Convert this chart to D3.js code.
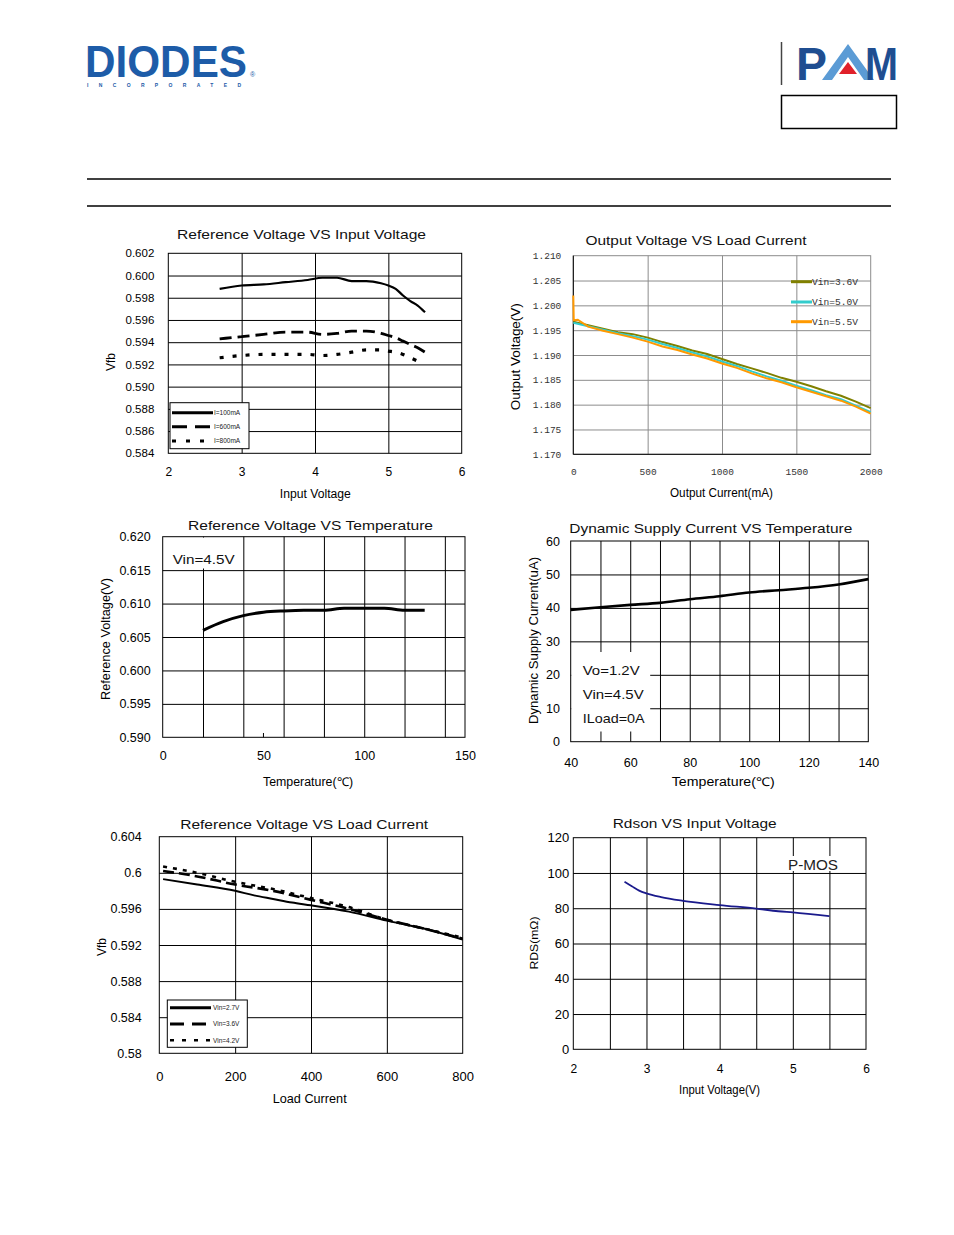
<!DOCTYPE html>
<html>
<head>
<meta charset="utf-8">
<script src="https://cdn.jsdelivr.net/npm/d3@7"></script>
<style>
  body { margin: 0; background: #fff; }
  svg { display: block; }
</style>
</head>
<body>
<svg id="page" width="954" height="1235"></svg>
<script>
// ---- data: Reference Voltage VS Input Voltage
const refVin = [2.7, 3.0, 3.3, 3.6, 3.9, 4.1, 4.3, 4.5, 4.7, 4.9, 5.0, 5.1, 5.2, 5.3, 5.4, 5.5];
const vfb100mA = [0.5988, 0.5991, 0.5992, 0.5994, 0.5996, 0.5998, 0.5998, 0.5995, 0.5995, 0.5993, 0.5991, 0.5988, 0.5982, 0.5977, 0.5973, 0.5967];
const vfb600mA = [0.5943, 0.5945, 0.5947, 0.5949, 0.5949, 0.5947, 0.5948, 0.5950, 0.5950, 0.5948, 0.5946, 0.5944, 0.5941, 0.5938, 0.5935, 0.5931];
const vfb800mA = [0.5926, 0.5928, 0.5929, 0.5929, 0.5929, 0.5928, 0.5929, 0.5931, 0.5933, 0.5933, 0.5932, 0.5931, 0.5929, 0.5926, 0.5923];
const refVinTicks = [2, 3, 4, 5, 6];
const refVfbTicks = [0.584, 0.586, 0.588, 0.590, 0.592, 0.594, 0.596, 0.598, 0.600, 0.602];

// ---- data: Output Voltage VS Load Current
const loadMA = [0, 100, 200, 300, 400, 500, 600, 700, 800, 900, 1000, 1100, 1200, 1300, 1400, 1500, 1600, 1700, 1800, 1900, 2000];
const vout36 = [1.1967, 1.1960, 1.1953, 1.1946, 1.1942, 1.1935, 1.1926, 1.1918, 1.1909, 1.1902, 1.1892, 1.1882, 1.1873, 1.1864, 1.1854, 1.1846, 1.1837, 1.1827, 1.1818, 1.1806, 1.1793];
const vout50 = [1.1965, 1.1958, 1.1951, 1.1944, 1.1938, 1.1931, 1.1922, 1.1914, 1.1905, 1.1897, 1.1887, 1.1878, 1.1867, 1.1857, 1.1848, 1.1838, 1.1829, 1.1819, 1.1811, 1.1798, 1.1785];
const loadMA55 = [0, 3, 30, 100, 200, 300, 400, 500, 600, 700, 800, 900, 1000, 1100, 1200, 1300, 1400, 1500, 1600, 1700, 1800, 1900, 2000];
const vout55 = [1.2020, 1.1970, 1.1971, 1.1957, 1.1949, 1.1942, 1.1935, 1.1927, 1.1917, 1.1910, 1.1901, 1.1893, 1.1883, 1.1874, 1.1863, 1.1853, 1.1845, 1.1835, 1.1826, 1.1817, 1.1808, 1.1796, 1.1782];
const loadTicks = [0, 500, 1000, 1500, 2000];
const voutTicks = [1.170, 1.175, 1.180, 1.185, 1.190, 1.195, 1.200, 1.205, 1.210];

// ---- data: Reference Voltage VS Temperature
const tempRef = [20, 30, 40, 50, 60, 70, 80, 90, 100, 110, 120, 130];
const vrefTemp = [0.6060, 0.6073, 0.6082, 0.6087, 0.6089, 0.6090, 0.6090, 0.6093, 0.6093, 0.6093, 0.6090, 0.6090];
const tempRefGrid = [20, 40, 60, 80, 100, 120, 140];
const tempRefTicks = [0, 50, 100, 150];
const vrefTicks = [0.590, 0.595, 0.600, 0.605, 0.610, 0.615, 0.620];

// ---- data: Dynamic Supply Current VS Temperature
const tempDyn = [40, 50, 60, 70, 80, 90, 100, 110, 120, 130, 140];
const iqDyn = [39.4, 40.2, 40.9, 41.5, 42.6, 43.5, 44.6, 45.3, 46.0, 47.0, 48.6];
const tempDynGrid = [50, 60, 70, 80, 90, 100, 110, 120, 130];
const tempDynTicks = [40, 60, 80, 100, 120, 140];
const iqTicks = [0, 10, 20, 30, 40, 50, 60];

// ---- data: Reference Voltage VS Load Current
const loadA = [10, 100, 200, 250, 300, 350, 400, 500, 600, 700, 800];
const vfbVin27 = [0.5993, 0.5987, 0.5980, 0.5975, 0.5971, 0.5967, 0.5964, 0.5957, 0.5947, 0.5938, 0.5926];
const loadB = [10, 100, 200, 300, 400, 500, 600, 700, 800];
const vfbVin36 = [0.6002, 0.5996, 0.5987, 0.5980, 0.5970, 0.5960, 0.5948, 0.5938, 0.5927];
const vfbVin42 = [0.6007, 0.6000, 0.5990, 0.5982, 0.5972, 0.5962, 0.5948, 0.5938, 0.5928];
const loadCurTicks = [0, 200, 400, 600, 800];
const vfbLoadTicks = [0.58, 0.584, 0.588, 0.592, 0.596, 0.6, 0.604];

// ---- data: Rdson VS Input Voltage
const rdsVin = [2.7, 2.8, 2.9, 3.0, 3.2, 3.5, 4.0, 4.5, 4.8, 5.0, 5.5];
const rdsPmos = [95, 92.5, 90, 88.4, 86.3, 84.2, 81.8, 79.8, 78.3, 77.6, 75.5];
const rdsVinGrid = [2.5, 3, 3.5, 4, 4.5, 5, 5.5];
const rdsVinTicks = [2, 3, 4, 5, 6];
const rdsTicks = [0, 20, 40, 60, 80, 100, 120];

const svg = d3.select("#page");
const SANS = "'Liberation Sans', Arial, sans-serif";
const MONO = "'Liberation Mono', 'DejaVu Sans Mono', monospace";

function addText(g, txt, x, y, o = {}) {
  const t = g.append("text")
    .attr("x", x)
    .attr("y", y)
    .attr("font-family", o.family || SANS)
    .attr("font-size", o.size || 12)
    .attr("fill", o.fill || "#000")
    .attr("text-anchor", o.anchor || "start")
    .text(txt);
  if (o.len) t.attr("textLength", o.len).attr("lengthAdjust", o.adjust || "spacingAndGlyphs");
  if (o.rotate) t.attr("transform", `rotate(-90,${x},${y})`);
  if (o.weight) t.attr("font-weight", o.weight);
  return t;
}

// header
svg.append("line").attr("x1", 87).attr("x2", 891).attr("y1", 179).attr("y2", 179).attr("stroke", "#000").attr("stroke-width", 1.5);
svg.append("line").attr("x1", 87).attr("x2", 891).attr("y1", 206).attr("y2", 206).attr("stroke", "#000").attr("stroke-width", 1.5);
addText(svg, "DIODES", 85, 77, { size: 44, weight: "bold", fill: "#1d5ca8", len: 162 });
addText(svg, "INCORPORATED", 87, 87, { size: 5, weight: "bold", fill: "#1d5ca8", len: 154, adjust: "spacing" });
addText(svg, "®", 250, 77, { size: 7, fill: "#1d5ca8" });
svg.append("line").attr("x1", 781.5).attr("x2", 781.5).attr("y1", 42).attr("y2", 85).attr("stroke", "#444").attr("stroke-width", 1.5);
addText(svg, "P", 796, 80, { size: 47, weight: "bold", fill: "#1f4e91", len: 31 });
svg.append("path")
  .attr("d", "M822,80 L848,44 L874,80 L864,80 L848,57 L832,80 Z")
  .attr("fill", "#5b9bd5");
svg.append("path").attr("d", "M848,62 L839,74 L857,74 Z").attr("fill", "#e0202a");
addText(svg, "M", 865, 80, { size: 47, weight: "bold", fill: "#1f4e91", len: 33 });
svg.append("rect").attr("x", 781.5).attr("y", 95.5).attr("width", 115).attr("height", 33)
  .attr("fill", "none").attr("stroke", "#000").attr("stroke-width", 1.5);

// generic chart
function chart(c) {
  const g = svg.append("g");
  const x = d3.scaleLinear().domain(c.xDomain).range([c.left, c.right]);
  const y = d3.scaleLinear().domain(c.yDomain).range([c.bottom, c.top]);
  const h = c.bottom - c.top;
  const w = c.right - c.left;
  const gridColor = c.gridColor || "#000";

  // grid lines
  g.append("g")
    .attr("transform", `translate(0,${c.bottom})`)
    .call(d3.axisBottom(x).tickValues(c.gridX).tickSize(-h).tickFormat(""))
    .call((a) => a.select(".domain").remove())
    .selectAll("line").attr("stroke", gridColor);
  g.append("g")
    .attr("transform", `translate(${c.left},0)`)
    .call(d3.axisLeft(y).tickValues(c.gridY).tickSize(-w).tickFormat(""))
    .call((a) => a.select(".domain").remove())
    .selectAll("line").attr("stroke", gridColor);

  if (c.before) c.before(g, x, y);

  // frame
  g.append("rect")
    .attr("x", c.left).attr("y", c.top).attr("width", w).attr("height", h)
    .attr("fill", "none").attr("stroke", c.frameColor || "#000").attr("stroke-width", 1);
  if (c.frameColor) {
    g.append("path")
      .attr("d", `M${c.left},${c.top}V${c.bottom}H${c.right}`)
      .attr("fill", "none").attr("stroke", "#000");
  }

  // tick labels
  const fam = c.tickFamily || SANS;
  const yAx = g.append("g")
    .attr("transform", `translate(${c.left},0)`)
    .call(d3.axisLeft(y).tickValues(c.yTicks).tickSize(0).tickPadding(c.yPad).tickFormat(c.yFmt));
  yAx.select(".domain").remove();
  yAx.attr("font-family", fam).attr("font-size", c.yFs).selectAll("text").attr("fill", c.tickFill || "#000");

  const xPad = c.xLabY - c.bottom - 0.35 * c.xFs;
  const xAx = g.append("g")
    .attr("transform", `translate(0,${c.bottom})`)
    .call(d3.axisBottom(x).tickValues(c.xTicks).tickSize(0).tickPadding(xPad).tickFormat(c.xFmt || d3.format("")));
  xAx.select(".domain").remove();
  xAx.attr("font-family", fam).attr("font-size", c.xFs).selectAll("text").attr("fill", c.tickFill || "#000");

  // series
  c.series.forEach((s) => {
    const line = d3.line()
      .x((d) => x(d[0]))
      .y((d) => y(d[1]))
      .curve(s.curve || d3.curveMonotoneX);
    g.append("path")
      .datum(d3.zip(s.x, s.y))
      .attr("d", line)
      .attr("fill", "none")
      .attr("stroke", s.color || "#000")
      .attr("stroke-width", s.width || 2)
      .attr("stroke-dasharray", s.dash || null);
  });

  // titles
  const t = c.title;
  addText(g, t.text, t.x, t.y, { size: t.size || 13.5, anchor: "middle", len: t.len, fill: "#111" });
  const xl = c.xLabel;
  addText(g, xl.text, xl.x, xl.y, { size: xl.size || 12, anchor: "middle", len: xl.len });
  const yl = c.yLabel;
  addText(g, yl.text, yl.x, yl.y, { size: yl.size || 12, anchor: "middle", len: yl.len, rotate: true });

  if (c.after) c.after(g, x, y);
  return g;
}

function legendBox(g, box, items) {
  g.append("rect")
    .attr("x", box.x).attr("y", box.y).attr("width", box.w).attr("height", box.h)
    .attr("fill", "#fff").attr("stroke", "#000").attr("stroke-width", 1);
  items.forEach((it) => {
    g.append("line")
      .attr("x1", box.lx1).attr("x2", box.lx2).attr("y1", it.y).attr("y2", it.y)
      .attr("stroke", it.color || "#000").attr("stroke-width", it.width || 3)
      .attr("stroke-dasharray", it.dash || null);
    addText(g, it.label, box.tx, it.y + 2.3, { size: box.fs || 6.5, fill: it.textFill || "#222", family: box.family || SANS });
  });
}

// 1. Reference Voltage VS Input Voltage
chart({
  left: 168.3, right: 461.7, top: 253.3, bottom: 453.3,
  xDomain: [2, 6], yDomain: [0.584, 0.602],
  gridX: [3, 4, 5], gridY: refVfbTicks.slice(1, -1),
  xTicks: refVinTicks, yTicks: refVfbTicks,
  yFmt: d3.format(".3f"), yPad: 14, yFs: 11.5,
  xLabY: 472, xFs: 12,
  series: [
    { x: refVin, y: vfb100mA, width: 2.2 },
    { x: refVin, y: vfb600mA, width: 2.8, dash: "12,6" },
    { x: refVin.slice(0, vfb800mA.length), y: vfb800mA, width: 3.2, dash: "4,9" },
  ],
  title: { text: "Reference Voltage VS Input Voltage", x: 301.5, y: 238.5, len: 249 },
  xLabel: { text: "Input Voltage", x: 315.3, y: 498, len: 71 },
  yLabel: { text: "Vfb", x: 115, y: 362 },
  after: (g) => legendBox(g,
    { x: 170, y: 402.7, w: 79, h: 46, lx1: 172, lx2: 213, tx: 214 },
    [
      { y: 412.7, label: "I=100mA" },
      { y: 426.7, label: "I=600mA", dash: "15,8" },
      { y: 441, label: "I=800mA", dash: "4,10" },
    ]),
});

// 2. Output Voltage VS Load Current
chart({
  left: 573.3, right: 870.7, top: 255.7, bottom: 454.3,
  xDomain: [0, 2000], yDomain: [1.170, 1.210],
  gridX: [500, 1000, 1500], gridY: voutTicks.slice(1, -1),
  gridColor: "#8c8c8c", frameColor: "#8c8c8c",
  xTicks: loadTicks, yTicks: voutTicks,
  yFmt: d3.format(".3f"), yPad: 12, yFs: 9.5,
  xLabY: 471.7, xFs: 9.5,
  tickFamily: MONO, tickFill: "#333",
  series: [
    { x: loadMA, y: vout36, color: "#808000", width: 2, curve: d3.curveLinear },
    { x: loadMA, y: vout50, color: "#33cccc", width: 2, curve: d3.curveLinear },
    { x: loadMA55, y: vout55, color: "#ff9900", width: 2, curve: d3.curveLinear },
  ],
  title: { text: "Output Voltage VS Load Current", x: 696, y: 244.7, len: 221 },
  xLabel: { text: "Output Current(mA)", x: 721.5, y: 496.5, len: 103 },
  yLabel: { text: "Output Voltage(V)", x: 520, y: 356.7, len: 107 },
  after: (g) => {
    [
      { y: 281.7, label: "Vin=3.6V", color: "#808000" },
      { y: 302, label: "Vin=5.0V", color: "#33cccc" },
      { y: 321.7, label: "Vin=5.5V", color: "#ff9900" },
    ].forEach((it) => {
      g.append("line").attr("x1", 791).attr("x2", 812).attr("y1", it.y).attr("y2", it.y)
        .attr("stroke", it.color).attr("stroke-width", 3);
      addText(g, it.label, 812, it.y + 3, { size: 9.5, family: MONO, fill: "#333", len: 46 });
    });
  },
});

// 3. Reference Voltage VS Temperature
chart({
  left: 162.7, right: 465, top: 536.7, bottom: 737.3,
  xDomain: [0, 150], yDomain: [0.590, 0.620],
  gridX: tempRefGrid, gridY: vrefTicks.slice(1, -1),
  xTicks: tempRefTicks, yTicks: vrefTicks,
  yFmt: d3.format(".3f"), yPad: 12, yFs: 12.5,
  xLabY: 755.7, xFs: 12.5,
  series: [{ x: tempRef, y: vrefTemp, width: 3 }],
  title: { text: "Reference Voltage VS Temperature", x: 310.5, y: 530, len: 245, size: 13 },
  xLabel: { text: "Temperature(℃)", x: 308, y: 786, len: 90 },
  yLabel: { text: "Reference Voltage(V)", x: 110, y: 639, len: 122 },
  before: (g, x) => {
    g.append("rect").attr("x", 163.5).attr("y", 537.5).attr("width", 77).attr("height", 31).attr("fill", "#fff");
    g.selectAll(".tick50").data([50]).join("line").attr("class", "tick50")
      .attr("x1", (d) => x(d)).attr("x2", (d) => x(d))
      .attr("y1", 737.3).attr("y2", 733).attr("stroke", "#000");
  },
  after: (g) => addText(g, "Vin=4.5V", 172.7, 564, { size: 13, len: 62, fill: "#111" }),
});

// 4. Dynamic Supply Current VS Temperature
chart({
  left: 570.7, right: 868.3, top: 541, bottom: 741.7,
  xDomain: [40, 140], yDomain: [0, 60],
  gridX: tempDynGrid, gridY: iqTicks.slice(1, -1),
  xTicks: tempDynTicks, yTicks: iqTicks,
  yFmt: d3.format("d"), yPad: 10.7, yFs: 12.5,
  xLabY: 762.3, xFs: 12.5,
  series: [{ x: tempDyn, y: iqDyn, width: 2.6 }],
  title: { text: "Dynamic Supply Current VS Temperature", x: 710.8, y: 533.3, len: 283 },
  xLabel: { text: "Temperature(℃)", x: 723.3, y: 786, len: 103 },
  yLabel: { text: "Dynamic Supply Current(uA)", x: 538, y: 640.5, len: 167 },
  before: (g) => {
    g.append("rect").attr("x", 571.2).attr("y", 652).attr("width", 79).attr("height", 79.5).attr("fill", "#fff");
  },
  after: (g) => {
    addText(g, "Vo=1.2V", 582.7, 675, { size: 13.5, len: 57, fill: "#111" });
    addText(g, "Vin=4.5V", 582.7, 699, { size: 13.5, len: 61, fill: "#111" });
    addText(g, "ILoad=0A", 582.7, 723.3, { size: 13.5, len: 62, fill: "#111" });
  },
});

// 5. Reference Voltage VS Load Current
chart({
  left: 159.3, right: 462.7, top: 836.7, bottom: 1053.3,
  xDomain: [0, 800], yDomain: [0.58, 0.604],
  gridX: [200, 400, 600], gridY: vfbLoadTicks.slice(1, -1),
  xTicks: loadCurTicks, yTicks: vfbLoadTicks,
  yFmt: d3.format("~g"), yPad: 17.6, yFs: 12.5,
  xLabY: 1076.7, xFs: 13,
  series: [
    { x: loadA, y: vfbVin27, width: 2 },
    { x: loadB, y: vfbVin36, width: 2.6, dash: "11,5" },
    { x: loadB, y: vfbVin42, width: 2.6, dash: "4,6" },
  ],
  title: { text: "Reference Voltage VS Load Current", x: 304.2, y: 829, len: 248 },
  xLabel: { text: "Load Current", x: 309.7, y: 1102.5, len: 74, size: 13 },
  yLabel: { text: "Vfb", x: 105.5, y: 947, size: 12 },
  after: (g) => legendBox(g,
    { x: 167.3, y: 1000, w: 80, h: 47.3, lx1: 170, lx2: 211, tx: 213 },
    [
      { y: 1007.7, label: "Vin=2.7V" },
      { y: 1024, label: "Vin=3.6V", dash: "14,8" },
      { y: 1040.3, label: "Vin=4.2V", dash: "4,8", width: 2.5 },
    ]),
});

// 6. Rdson VS Input Voltage
chart({
  left: 573.3, right: 866, top: 837.7, bottom: 1049.3,
  xDomain: [2, 6], yDomain: [0, 120],
  gridX: rdsVinGrid, gridY: rdsTicks.slice(1, -1),
  xTicks: rdsVinTicks, yTicks: rdsTicks,
  yFmt: d3.format("d"), yPad: 4, yFs: 13,
  xLabY: 1068.3, xFs: 12,
  series: [{ x: rdsVin, y: rdsPmos, color: "#1a1a8c", width: 1.8 }],
  title: { text: "Rdson VS Input Voltage", x: 694.7, y: 828.3, len: 164 },
  xLabel: { text: "Input Voltage(V)", x: 719.5, y: 1094, len: 81, size: 12.5 },
  yLabel: { text: "RDS(mΩ)", x: 538, y: 943, len: 53, size: 10.5 },
  before: (g) => {
    g.append("rect").attr("x", 786).attr("y", 856).attr("width", 54).attr("height", 15).attr("fill", "#fff");
  },
  after: (g) => addText(g, "P-MOS", 788, 870, { size: 14, len: 50, fill: "#222" }),
});
</script>
</body>
</html>
